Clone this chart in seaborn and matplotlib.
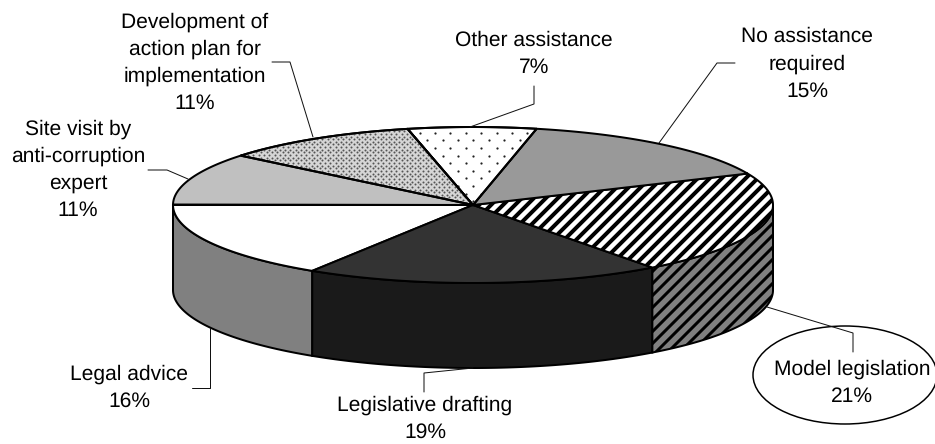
import numpy as np
import matplotlib
matplotlib.use("Agg")
import matplotlib.pyplot as plt
from matplotlib.patches import Ellipse
import seaborn as sns

# slices, starting at the left edge and going round the front
categories = ["Legal advice", "Legislative drafting", "Model legislation",
              "No assistance required", "Other assistance",
              "Development of action plan", "Site visit by expert"]
shares = [16.0, 19.2, 21.4, 15.0, 6.9, 10.6, 10.8]
label_texts = ["Legal advice", "Legislative drafting", "Model legislation",
               "No assistance\nrequired", "Other assistance",
               "Development of\naction plan for\nimplementation",
               "Site visit by\nanti-corruption\nexpert"]

# pie shape in pixels
cx, cy, rx, ry, depth = 473, 205, 300, 78, 85
start_angle = 180

top_colors = ["white", "#333333", "white", "#999999", "white", "#d6d6d6", "#c0c0c0"]
side_colors = ["#808080", "#1a1a1a", "#808080"]
top_hatch = [None, None, "//", None, None, None, None]
side_hatch = [None, None, "//"]

label_pos = [(129, 388), (425, 419), (852, 383), (807, 64), (534, 54), (195, 63), (78, 170)]
leaders = [
    [(210, 328), (210, 388), (192, 388)],
    [(473, 368), (424, 373), (424, 392)],
    [(767, 307), (853, 333), (853, 352)],
    [(659, 143), (717, 63), (735, 63)],
    [(470, 127), (534, 104), (534, 86)],
    [(313, 137), (290, 62), (272, 62)],
    [(188, 179), (167, 170), (148, 170)],
]

sns.set_theme(style="white")
plt.rcParams["font.family"] = ["Liberation Sans", "DejaVu Sans"]
plt.rcParams["text.hinting"] = "no_hinting"

# dpi 72 so that one point is one pixel
fig = plt.figure(figsize=(935 / 72, 444 / 72), dpi=72)
ax = fig.add_axes([0, 0, 1, 1])
ax.set_xlim(0, 935)
ax.set_ylim(444, 0)
ax.axis("off")


def ellipse_arc(a0, a1, shift=0):
    t = np.radians(np.linspace(a0, a1, 120))
    return cx + rx * np.cos(t), cy + shift - ry * np.sin(t)


bounds = start_angle + np.cumsum([0] + shares) * 3.6

# walls of the front half
plt.rcParams["hatch.linewidth"] = 3
for i in range(3):
    a0, a1 = bounds[i], min(bounds[i + 1], 360)
    x_top, y_top = ellipse_arc(a0, a1)
    x_bot, y_bot = ellipse_arc(a1, a0, depth)
    ax.fill(np.r_[x_top, x_bot], np.r_[y_top, y_bot], facecolor=side_colors[i],
            edgecolor="black", hatch=side_hatch[i], linewidth=2, zorder=2)

# top face
plt.rcParams["hatch.linewidth"] = 4
wedges = []
for i in range(len(shares)):
    x_arc, y_arc = ellipse_arc(bounds[i], bounds[i + 1])
    w = ax.fill(np.r_[cx, x_arc], np.r_[cy, y_arc], facecolor=top_colors[i],
                edgecolor="black", hatch=top_hatch[i], linewidth=2, zorder=3)[0]
    wedges.append(w)


def dot_texture(wedge, step_x, step_y, size, color):
    # staggered dots, clipped to the slice
    xs, ys = [], []
    for r, y in enumerate(np.arange(110, 220, step_y)):
        row = np.arange(150, 800, step_x) + (r % 2) * step_x / 2
        xs.extend(row)
        ys.extend([y] * len(row))
    sns.scatterplot(x=xs, y=ys, s=size, color=color, linewidth=0, ax=ax, zorder=4)
    ax.collections[-1].set_clip_path(wedge)


dot_texture(wedges[4], 15.4, 7.6, 5, "#222222")
dot_texture(wedges[5], 5.3, 2.65, 4, "#555555")

# redraw the edges of the dotted slices over the dots
for i in (4, 5):
    x_arc, y_arc = ellipse_arc(bounds[i], bounds[i + 1])
    ax.fill(np.r_[cx, x_arc], np.r_[cy, y_arc], facecolor="none",
            edgecolor="black", linewidth=2, zorder=5)

# model legislation is the highlighted label
ax.add_patch(Ellipse((845, 375), 184, 98, facecolor="none", edgecolor="black",
                     linewidth=1.5, clip_on=False, zorder=6))

for path in leaders:
    px, py = zip(*path)
    ax.plot(px, py, color="#111111", linewidth=1, zorder=7)

for text, share, (tx, ty) in zip(label_texts, shares, label_pos):
    ax.text(tx, ty, f"{text}\n{round(share)}%", ha="center", va="center",
            fontsize=21, color="black", linespacing=1.5, zorder=8)

sns.despine(ax=ax, left=True, bottom=True)
fig.savefig("out.png", dpi=72)
